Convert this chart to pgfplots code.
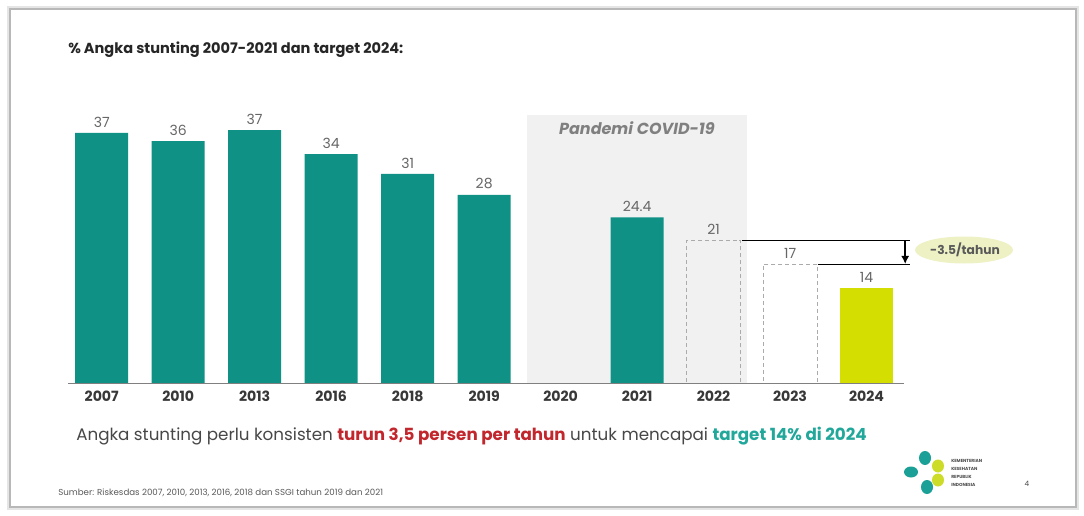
\documentclass[border=0pt]{standalone}
\usepackage{pgfplots}
\pgfplotsset{compat=1.18}
\usepackage{pgfplotstable}
\usepackage{fontspec}
\setmainfont{Poppins}
\usetikzlibrary{arrows.meta}
\definecolor{barteal}{RGB}{15,145,133}
\definecolor{targetyellow}{RGB}{212,222,0}
\definecolor{covidgray}{RGB}{241,241,241}
\definecolor{ellfill}{RGB}{238,241,196}
\definecolor{redtxt}{RGB}{193,39,45}
\definecolor{tealtxt}{RGB}{34,167,155}
\definecolor{logoteal}{RGB}{26,160,150}
\definecolor{logoyellow}{RGB}{205,220,40}

\pgfplotstableread{
x y label
0 36.8 37
1 35.6 36
2 37.2 37
3 33.7 34
4 30.8 31
5 27.7 28
7 24.4 24.4
}\tealdata
\pgfplotstableread{
x y label
8 21 21
9 17.5 17
}\dashdata
\pgfplotstableread{
x y label
10 14 14
}\targetdata

\begin{document}
\begin{tikzpicture}[x=0.75pt,y=0.75pt]
\useasboundingbox (0,0) rectangle (1084,515);
\fill[white] (0,0) rectangle (1084,515);
% slide frame
\draw[black!10, line width=3pt] (9,7) rectangle (1077,507);
\draw[black!28, line width=0.8pt] (10,8) rectangle (1076,506);
% title
\node[anchor=west, inner sep=0pt, font=\bfseries\fontsize{10.9}{12}\selectfont, text=black!85] at (68,465) {\% Angka stunting 2007-2021 dan target 2024:};

\begin{axis}[
  at={(51.225pt,98.625pt)}, anchor=south west,
  scale only axis, width=626.8pt, height=205.1pt,
  xmin=-0.437, xmax=10.49, ymin=0, ymax=40.16,
  axis line style={draw=none},
  ytick=\empty,
  xtick={0,1,2,3,4,5,6,7,8,9,10},
  xticklabels={2007,2010,2013,2016,2018,2019,2020,2021,2022,2023,2024},
  major tick length=0pt,
  xticklabel style={anchor=base, yshift=-13.8pt, inner sep=0pt, font=\bfseries\fontsize{10.6}{12}\selectfont, text=black!78},
  clip=false,
  point meta=explicit symbolic,
  nodes near coords={\pgfplotspointmeta},
  nodes near coords style={anchor=south, inner sep=0pt, yshift=4pt, font=\fontsize{10.5}{12}\selectfont, text=black!60},
]
\fill[covidgray] (axis cs:5.562,0) rectangle (axis cs:8.435,39.43);
\node[font=\bfseries\itshape\fontsize{12}{14}\selectfont, text=black!50] at (axis cs:6.998,37.45) {Pandemi COVID-19};

\addplot[ybar, bar width=39.75pt, bar shift=0pt, fill=barteal, draw=none]
  table[x=x, y=y, meta=label] {\tealdata};
\addplot[ybar, bar width=40.5pt, bar shift=0pt, draw=black!33, line width=0.8pt, dash pattern=on 3pt off 2.2pt, fill=none]
  table[x=x, y=y, meta=label] {\dashdata};
\addplot[ybar, bar width=39.75pt, bar shift=0pt, fill=targetyellow, draw=none]
  table[x=x, y=y, meta=label] {\targetdata};

\draw[black, line width=1.1pt] (axis cs:8.37,21) -- (axis cs:10.57,21);
\draw[black, line width=1.1pt] (axis cs:9.36,17.5) -- (axis cs:10.57,17.5);
\draw[black, line width=1.6pt, -{Latex[length=6pt,width=6pt]}] (axis cs:10.505,21) -- (axis cs:10.505,17.55);
\end{axis}

% baseline
\draw[black!50, line width=1.4pt] (68.3,131.5) -- (904,131.5);

% annotation ellipse
\fill[ellfill] (964,265) ellipse [x radius=49, y radius=13.5];
\node[font=\bfseries\fontsize{9.2}{11}\selectfont, text=black!65] at (965,265) {-3.5/tahun};

% bottom sentence
\node[anchor=west, inner sep=0pt, font=\fontsize{12.55}{14}\selectfont, text=black!72] at (76,79)
  {Angka stunting perlu konsisten \textcolor{redtxt}{\bfseries turun 3,5 persen per tahun} untuk mencapai \textcolor{tealtxt}{\bfseries target 14\% di 2024}};

% source
\node[anchor=west, inner sep=0pt, font=\fontsize{6.5}{7}\selectfont, text=black!65] at (58,22)
  {Sumber: Riskesdas 2007, 2010, 2013, 2016, 2018 dan SSGI tahun 2019 dan 2021};

% logo
\fill[logoteal] (925,57) ellipse [x radius=6, y radius=7];
\fill[logoteal] (911,43) ellipse [x radius=7, y radius=5.5];
\fill[logoteal] (927,28) ellipse [x radius=6, y radius=7];
\fill[logoyellow] (938,49) ellipse [x radius=6, y radius=6.5];
\fill[logoyellow] (938,35) ellipse [x radius=6, y radius=6.5];
\node[anchor=west, inner sep=0pt, font=\bfseries\fontsize{3.3}{4}\selectfont, text=black!70] at (951,54) {KEMENTERIAN};
\node[anchor=west, inner sep=0pt, font=\bfseries\fontsize{3.3}{4}\selectfont, text=black!70] at (951,46) {KESEHATAN};
\node[anchor=west, inner sep=0pt, font=\bfseries\fontsize{3.3}{4}\selectfont, text=black!70] at (951,38) {REPUBLIK};
\node[anchor=west, inner sep=0pt, font=\bfseries\fontsize{3.3}{4}\selectfont, text=black!70] at (951,30) {INDONESIA};
\node[inner sep=0pt, font=\fontsize{5.5}{6}\selectfont, text=black!70] at (1027,31) {4};
\end{tikzpicture}
\end{document}
